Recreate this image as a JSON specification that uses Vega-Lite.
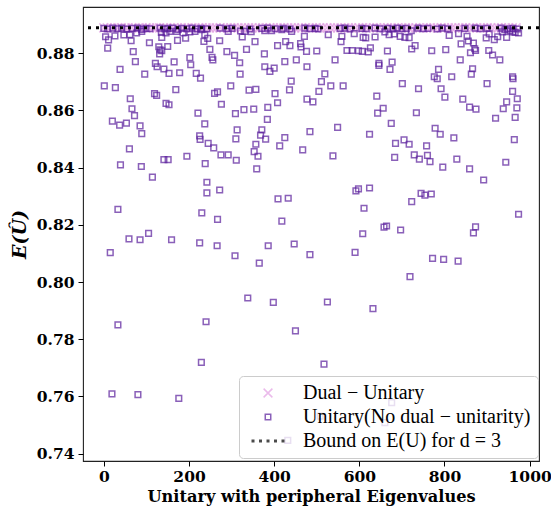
{
  "$schema": "https://vega.github.io/schema/vega-lite/v6.json",
  "width": 456,
  "height": 454,
  "autosize": {"type": "none"},
  "padding": {"left": 83, "top": 7, "right": 12, "bottom": 45},
  "background": "white",
  "config": {
    "view": {"stroke": "#222", "strokeWidth": 1.1},
    "axis": {"labelFont": "DejaVu Serif", "labelFontWeight": "bold", "labelFontSize": 15.5, "labelColor": "black", "tickColor": "black", "tickSize": 5, "tickWidth": 1, "domain": false, "grid": false, "titleFont": "DejaVu Serif", "titleFontWeight": "bold", "titleColor": "black"}
  },
  "datasets": {
    "pts": [
      {"x":0,"y":0.8889,"t":"D"},{"x":8,"y":0.8889,"t":"D"},{"x":17,"y":0.8889,"t":"D"},{"x":25,"y":0.8889,"t":"D"},{"x":33,"y":0.8889,"t":"D"},{"x":41,"y":0.8889,"t":"D"},{"x":50,"y":0.8889,"t":"D"},{"x":57,"y":0.8889,"t":"D"},{"x":66,"y":0.8889,"t":"D"},{"x":74,"y":0.8889,"t":"D"},{"x":83,"y":0.8889,"t":"D"},{"x":90,"y":0.8889,"t":"D"},{"x":99,"y":0.8889,"t":"D"},{"x":107,"y":0.8889,"t":"D"},{"x":116,"y":0.8889,"t":"D"},{"x":124,"y":0.8889,"t":"D"},{"x":131,"y":0.8889,"t":"D"},{"x":140,"y":0.8889,"t":"D"},{"x":148,"y":0.8889,"t":"D"},{"x":157,"y":0.8889,"t":"D"},{"x":165,"y":0.8889,"t":"D"},{"x":173,"y":0.8889,"t":"D"},{"x":182,"y":0.8889,"t":"D"},{"x":190,"y":0.8889,"t":"D"},{"x":198,"y":0.8889,"t":"D"},{"x":207,"y":0.8889,"t":"D"},{"x":214,"y":0.8889,"t":"D"},{"x":223,"y":0.8889,"t":"D"},{"x":231,"y":0.8889,"t":"D"},{"x":240,"y":0.8889,"t":"D"},{"x":248,"y":0.8889,"t":"D"},{"x":256,"y":0.8889,"t":"D"},{"x":264,"y":0.8889,"t":"D"},{"x":273,"y":0.8889,"t":"D"},{"x":281,"y":0.8889,"t":"D"},{"x":290,"y":0.8889,"t":"D"},{"x":298,"y":0.8889,"t":"D"},{"x":306,"y":0.8889,"t":"D"},{"x":315,"y":0.8889,"t":"D"},{"x":323,"y":0.8889,"t":"D"},{"x":331,"y":0.8889,"t":"D"},{"x":340,"y":0.8889,"t":"D"},{"x":348,"y":0.8889,"t":"D"},{"x":356,"y":0.8889,"t":"D"},{"x":365,"y":0.8889,"t":"D"},{"x":373,"y":0.8889,"t":"D"},{"x":381,"y":0.8889,"t":"D"},{"x":390,"y":0.8889,"t":"D"},{"x":398,"y":0.8889,"t":"D"},{"x":407,"y":0.8889,"t":"D"},{"x":415,"y":0.8889,"t":"D"},{"x":423,"y":0.8889,"t":"D"},{"x":432,"y":0.8889,"t":"D"},{"x":440,"y":0.8889,"t":"D"},{"x":448,"y":0.8889,"t":"D"},{"x":457,"y":0.8889,"t":"D"},{"x":465,"y":0.8889,"t":"D"},{"x":474,"y":0.8889,"t":"D"},{"x":482,"y":0.8889,"t":"D"},{"x":490,"y":0.8889,"t":"D"},{"x":499,"y":0.8889,"t":"D"},{"x":507,"y":0.8889,"t":"D"},{"x":515,"y":0.8889,"t":"D"},{"x":524,"y":0.8889,"t":"D"},{"x":532,"y":0.8889,"t":"D"},{"x":541,"y":0.8889,"t":"D"},{"x":549,"y":0.8889,"t":"D"},{"x":557,"y":0.8889,"t":"D"},{"x":566,"y":0.8889,"t":"D"},{"x":574,"y":0.8889,"t":"D"},{"x":582,"y":0.8889,"t":"D"},{"x":591,"y":0.8889,"t":"D"},{"x":599,"y":0.8889,"t":"D"},{"x":608,"y":0.8889,"t":"D"},{"x":616,"y":0.8889,"t":"D"},{"x":624,"y":0.8889,"t":"D"},{"x":633,"y":0.8889,"t":"D"},{"x":641,"y":0.8889,"t":"D"},{"x":649,"y":0.8889,"t":"D"},{"x":658,"y":0.8889,"t":"D"},{"x":666,"y":0.8889,"t":"D"},{"x":675,"y":0.8889,"t":"D"},{"x":683,"y":0.8889,"t":"D"},{"x":691,"y":0.8889,"t":"D"},{"x":700,"y":0.8889,"t":"D"},{"x":708,"y":0.8889,"t":"D"},{"x":716,"y":0.8889,"t":"D"},{"x":725,"y":0.8889,"t":"D"},{"x":733,"y":0.8889,"t":"D"},{"x":742,"y":0.8889,"t":"D"},{"x":750,"y":0.8889,"t":"D"},{"x":758,"y":0.8889,"t":"D"},{"x":767,"y":0.8889,"t":"D"},{"x":775,"y":0.8889,"t":"D"},{"x":783,"y":0.8889,"t":"D"},{"x":792,"y":0.8889,"t":"D"},{"x":800,"y":0.8889,"t":"D"},{"x":809,"y":0.8889,"t":"D"},{"x":817,"y":0.8889,"t":"D"},{"x":825,"y":0.8889,"t":"D"},{"x":834,"y":0.8889,"t":"D"},{"x":842,"y":0.8889,"t":"D"},{"x":850,"y":0.8889,"t":"D"},{"x":859,"y":0.8889,"t":"D"},{"x":867,"y":0.8889,"t":"D"},{"x":876,"y":0.8889,"t":"D"},{"x":884,"y":0.8889,"t":"D"},{"x":892,"y":0.8889,"t":"D"},{"x":901,"y":0.8889,"t":"D"},{"x":909,"y":0.8889,"t":"D"},{"x":917,"y":0.8889,"t":"D"},{"x":926,"y":0.8889,"t":"D"},{"x":934,"y":0.8889,"t":"D"},{"x":943,"y":0.8889,"t":"D"},{"x":951,"y":0.8889,"t":"D"},{"x":959,"y":0.8889,"t":"D"},{"x":968,"y":0.8889,"t":"D"},

      {"x":74,"y":0.8771,"t":"U"},{"x":121,"y":0.8765,"t":"U"},{"x":125,"y":0.8753,"t":"U"},{"x":165,"y":0.877,"t":"U"},{"x":204,"y":0.876,"t":"U"},{"x":256,"y":0.8777,"t":"U"},{"x":319,"y":0.8767,"t":"U"},{"x":38,"y":0.8744,"t":"U"},{"x":96,"y":0.8727,"t":"U"},{"x":141,"y":0.8745,"t":"U"},{"x":153,"y":0.873,"t":"U"},{"x":178,"y":0.8732,"t":"U"},{"x":217,"y":0.873,"t":"U"},{"x":227,"y":0.8713,"t":"U"},{"x":320,"y":0.8727,"t":"U"},{"x":378,"y":0.8753,"t":"U"},{"x":390,"y":0.8737,"t":"U"},{"x":400,"y":0.8748,"t":"U"},{"x":425,"y":0.8771,"t":"U"},{"x":452,"y":0.8777,"t":"U"},{"x":477,"y":0.8753,"t":"U"},{"x":1,"y":0.8686,"t":"U"},{"x":27,"y":0.868,"t":"U"},{"x":440,"y":0.8703,"t":"U"},{"x":119,"y":0.8659,"t":"U"},{"x":124,"y":0.8653,"t":"U"},{"x":169,"y":0.8673,"t":"U"},{"x":260,"y":0.866,"t":"U"},{"x":267,"y":0.8665,"t":"U"},{"x":298,"y":0.8686,"t":"U"},{"x":341,"y":0.8671,"t":"U"},{"x":357,"y":0.8674,"t":"U"},{"x":402,"y":0.8659,"t":"U"},{"x":436,"y":0.8672,"t":"U"},{"x":477,"y":0.864,"t":"U"},{"x":62,"y":0.8641,"t":"U"},{"x":146,"y":0.8625,"t":"U"},{"x":153,"y":0.862,"t":"U"},{"x":66,"y":0.8606,"t":"U"},{"x":72,"y":0.8582,"t":"U"},{"x":221,"y":0.8591,"t":"U"},{"x":276,"y":0.8622,"t":"U"},{"x":309,"y":0.8589,"t":"U"},{"x":329,"y":0.8603,"t":"U"},{"x":352,"y":0.8605,"t":"U"},{"x":385,"y":0.8611,"t":"U"},{"x":408,"y":0.8627,"t":"U"},{"x":20,"y":0.8563,"t":"U"},{"x":37,"y":0.8549,"t":"U"},{"x":53,"y":0.8556,"t":"U"},{"x":85,"y":0.8546,"t":"U"},{"x":89,"y":0.8519,"t":"U"},{"x":237,"y":0.8553,"t":"U"},{"x":384,"y":0.8569,"t":"U"},{"x":313,"y":0.8532,"t":"U"},{"x":371,"y":0.8532,"t":"U"},{"x":225,"y":0.8511,"t":"U"},{"x":226,"y":0.8499,"t":"U"},{"x":245,"y":0.8485,"t":"U"},{"x":258,"y":0.8469,"t":"U"},{"x":310,"y":0.8501,"t":"U"},{"x":368,"y":0.8514,"t":"U"},{"x":380,"y":0.85,"t":"U"},{"x":357,"y":0.8482,"t":"U"},{"x":425,"y":0.8505,"t":"U"},{"x":413,"y":0.8476,"t":"U"},{"x":467,"y":0.8462,"t":"U"},{"x":484,"y":0.8526,"t":"U"},{"x":60,"y":0.8466,"t":"U"},{"x":141,"y":0.8428,"t":"U"},{"x":151,"y":0.8428,"t":"U"},{"x":195,"y":0.844,"t":"U"},{"x":275,"y":0.8445,"t":"U"},{"x":292,"y":0.8445,"t":"U"},{"x":311,"y":0.8426,"t":"U"},{"x":353,"y":0.8456,"t":"U"},{"x":362,"y":0.844,"t":"U"},{"x":39,"y":0.841,"t":"U"},{"x":88,"y":0.8404,"t":"U"},{"x":238,"y":0.8414,"t":"U"},{"x":359,"y":0.8396,"t":"U"},{"x":114,"y":0.8367,"t":"U"},{"x":242,"y":0.8349,"t":"U"},

      {"x":543,"y":0.8777,"t":"U"},{"x":646,"y":0.8765,"t":"U"},{"x":646,"y":0.8758,"t":"U"},{"x":677,"y":0.8769,"t":"U"},{"x":672,"y":0.8744,"t":"U"},{"x":786,"y":0.8744,"t":"U"},{"x":776,"y":0.8718,"t":"U"},{"x":783,"y":0.8711,"t":"U"},{"x":817,"y":0.8718,"t":"U"},{"x":866,"y":0.8746,"t":"U"},{"x":863,"y":0.8727,"t":"U"},{"x":837,"y":0.8777,"t":"U"},{"x":930,"y":0.8777,"t":"U"},{"x":960,"y":0.8718,"t":"U"},{"x":961,"y":0.8711,"t":"U"},{"x":519,"y":0.8728,"t":"U"},{"x":511,"y":0.8701,"t":"U"},{"x":533,"y":0.8686,"t":"U"},{"x":562,"y":0.8686,"t":"U"},{"x":505,"y":0.8667,"t":"U"},{"x":491,"y":0.863,"t":"U"},{"x":701,"y":0.8694,"t":"U"},{"x":739,"y":0.8676,"t":"U"},{"x":792,"y":0.8676,"t":"U"},{"x":900,"y":0.8694,"t":"U"},{"x":960,"y":0.8667,"t":"U"},{"x":641,"y":0.865,"t":"U"},{"x":801,"y":0.8647,"t":"U"},{"x":843,"y":0.864,"t":"U"},{"x":971,"y":0.8641,"t":"U"},{"x":946,"y":0.863,"t":"U"},{"x":656,"y":0.8608,"t":"U"},{"x":643,"y":0.8591,"t":"U"},{"x":734,"y":0.8592,"t":"U"},{"x":859,"y":0.8612,"t":"U"},{"x":874,"y":0.8605,"t":"U"},{"x":938,"y":0.8606,"t":"U"},{"x":970,"y":0.8609,"t":"U"},{"x":920,"y":0.8573,"t":"U"},{"x":966,"y":0.8576,"t":"U"},{"x":675,"y":0.8555,"t":"U"},{"x":549,"y":0.8541,"t":"U"},{"x":624,"y":0.8517,"t":"U"},{"x":778,"y":0.8538,"t":"U"},{"x":790,"y":0.8517,"t":"U"},{"x":822,"y":0.8504,"t":"U"},{"x":964,"y":0.8498,"t":"U"},{"x":538,"y":0.8441,"t":"U"},{"x":685,"y":0.8485,"t":"U"},{"x":705,"y":0.8497,"t":"U"},{"x":717,"y":0.8482,"t":"U"},{"x":758,"y":0.8476,"t":"U"},{"x":683,"y":0.8436,"t":"U"},{"x":729,"y":0.8445,"t":"U"},{"x":741,"y":0.843,"t":"U"},{"x":760,"y":0.8443,"t":"U"},{"x":766,"y":0.8421,"t":"U"},{"x":796,"y":0.8402,"t":"U"},{"x":829,"y":0.843,"t":"U"},{"x":859,"y":0.8396,"t":"U"},{"x":944,"y":0.8419,"t":"U"},{"x":892,"y":0.8357,"t":"U"},

      {"x":242,"y":0.8312,"t":"U"},{"x":272,"y":0.8322,"t":"U"},{"x":409,"y":0.8291,"t":"U"},{"x":33,"y":0.8254,"t":"U"},{"x":230,"y":0.8242,"t":"U"},{"x":267,"y":0.8219,"t":"U"},{"x":418,"y":0.8213,"t":"U"},{"x":15,"y":0.8103,"t":"U"},{"x":59,"y":0.8151,"t":"U"},{"x":85,"y":0.8148,"t":"U"},{"x":105,"y":0.817,"t":"U"},{"x":159,"y":0.8148,"t":"U"},{"x":225,"y":0.8137,"t":"U"},{"x":266,"y":0.8127,"t":"U"},{"x":308,"y":0.8092,"t":"U"},{"x":365,"y":0.8066,"t":"U"},{"x":386,"y":0.8127,"t":"U"},{"x":338,"y":0.7944,"t":"U"},{"x":398,"y":0.7929,"t":"U"},{"x":33,"y":0.785,"t":"U"},{"x":240,"y":0.7861,"t":"U"},{"x":433,"y":0.8293,"t":"U"},{"x":447,"y":0.8133,"t":"U"},{"x":484,"y":0.8096,"t":"U"},{"x":592,"y":0.8319,"t":"U"},{"x":598,"y":0.8326,"t":"U"},{"x":624,"y":0.8329,"t":"U"},{"x":611,"y":0.8258,"t":"U"},{"x":608,"y":0.8169,"t":"U"},{"x":590,"y":0.8104,"t":"U"},{"x":658,"y":0.8192,"t":"U"},{"x":664,"y":0.8196,"t":"U"},{"x":697,"y":0.8182,"t":"U"},{"x":723,"y":0.8281,"t":"U"},{"x":745,"y":0.831,"t":"U"},{"x":754,"y":0.8304,"t":"U"},{"x":769,"y":0.8308,"t":"U"},{"x":974,"y":0.8237,"t":"U"},{"x":873,"y":0.8193,"t":"U"},{"x":868,"y":0.8172,"t":"U"},{"x":772,"y":0.8083,"t":"U"},{"x":798,"y":0.8079,"t":"U"},{"x":832,"y":0.8073,"t":"U"},{"x":719,"y":0.8019,"t":"U"},{"x":525,"y":0.793,"t":"U"},{"x":632,"y":0.7907,"t":"U"},{"x":450,"y":0.7829,"t":"U"},{"x":19,"y":0.7609,"t":"U"},{"x":80,"y":0.7606,"t":"U"},{"x":176,"y":0.7593,"t":"U"},{"x":229,"y":0.7719,"t":"U"},{"x":517,"y":0.7713,"t":"U"},{"x":676,"y":0.7578,"t":"U"},{"x":660,"y":0.7508,"t":"U"},{"x":508,"y":0.7531,"t":"U"},{"x":432,"y":0.7446,"t":"U"},

      {"x":4,"y":0.8858,"t":"U"},{"x":11,"y":0.8847,"t":"U"},{"x":9,"y":0.8818,"t":"U"},{"x":26,"y":0.8861,"t":"U"},{"x":47,"y":0.8864,"t":"U"},{"x":61,"y":0.8865,"t":"U"},{"x":64,"y":0.8844,"t":"U"},{"x":69,"y":0.8806,"t":"U"},{"x":77,"y":0.8871,"t":"U"},{"x":89,"y":0.8877,"t":"U"},{"x":107,"y":0.8837,"t":"U"},{"x":135,"y":0.8873,"t":"U"},{"x":146,"y":0.8871,"t":"U"},{"x":136,"y":0.8856,"t":"U"},{"x":129,"y":0.8823,"t":"U"},{"x":132,"y":0.8812,"t":"U"},{"x":136,"y":0.8809,"t":"U"},{"x":131,"y":0.8798,"t":"U"},{"x":150,"y":0.8824,"t":"U"},{"x":155,"y":0.8877,"t":"U"},{"x":171,"y":0.8877,"t":"U"},{"x":173,"y":0.8845,"t":"U"},{"x":186,"y":0.8871,"t":"U"},{"x":192,"y":0.8853,"t":"U"},{"x":202,"y":0.8875,"t":"U"},{"x":202,"y":0.8785,"t":"U"},{"x":214,"y":0.8877,"t":"U"},{"x":230,"y":0.8883,"t":"U"},{"x":235,"y":0.8842,"t":"U"},{"x":237,"y":0.8865,"t":"U"},{"x":244,"y":0.8852,"t":"U"},{"x":249,"y":0.8814,"t":"U"},{"x":254,"y":0.8786,"t":"U"},{"x":272,"y":0.8844,"t":"U"},{"x":289,"y":0.8806,"t":"U"},{"x":292,"y":0.8877,"t":"U"},{"x":307,"y":0.8793,"t":"U"},{"x":321,"y":0.8878,"t":"U"},{"x":325,"y":0.8857,"t":"U"},{"x":331,"y":0.8877,"t":"U"},{"x":335,"y":0.8814,"t":"U"},{"x":346,"y":0.8876,"t":"U"},{"x":355,"y":0.8841,"t":"U"},{"x":377,"y":0.8798,"t":"U"},{"x":378,"y":0.8879,"t":"U"},{"x":394,"y":0.8879,"t":"U"},{"x":408,"y":0.8827,"t":"U"},{"x":418,"y":0.8883,"t":"U"},{"x":427,"y":0.8841,"t":"U"},{"x":437,"y":0.8827,"t":"U"},{"x":441,"y":0.8877,"t":"U"},{"x":462,"y":0.8834,"t":"U"},{"x":463,"y":0.8822,"t":"U"},{"x":471,"y":0.8859,"t":"U"},{"x":476,"y":0.8807,"t":"U"},{"x":500,"y":0.8808,"t":"U"},{"x":527,"y":0.8865,"t":"U"},{"x":559,"y":0.8859,"t":"U"},{"x":557,"y":0.8841,"t":"U"},{"x":571,"y":0.881,"t":"U"},{"x":583,"y":0.881,"t":"U"},{"x":588,"y":0.8869,"t":"U"},{"x":598,"y":0.8809,"t":"U"},{"x":609,"y":0.8856,"t":"U"},{"x":615,"y":0.8854,"t":"U"},{"x":607,"y":0.8807,"t":"U"},{"x":621,"y":0.8805,"t":"U"},{"x":626,"y":0.8819,"t":"U"},{"x":637,"y":0.8857,"t":"U"},{"x":660,"y":0.8875,"t":"U"},{"x":670,"y":0.8865,"t":"U"},{"x":666,"y":0.8808,"t":"U"},{"x":682,"y":0.8868,"t":"U"},{"x":696,"y":0.8859,"t":"U"},{"x":707,"y":0.8856,"t":"U"},{"x":717,"y":0.8855,"t":"U"},{"x":722,"y":0.8879,"t":"U"},{"x":723,"y":0.8815,"t":"U"},{"x":731,"y":0.8827,"t":"U"},{"x":770,"y":0.8809,"t":"U"},{"x":803,"y":0.8813,"t":"U"},{"x":811,"y":0.8863,"t":"U"},{"x":833,"y":0.8869,"t":"U"},{"x":839,"y":0.8833,"t":"U"},{"x":853,"y":0.8859,"t":"U"},{"x":856,"y":0.8843,"t":"U"},{"x":868,"y":0.8836,"t":"U"},{"x":861,"y":0.8802,"t":"U"},{"x":871,"y":0.8816,"t":"U"},{"x":873,"y":0.881,"t":"U"},{"x":898,"y":0.8854,"t":"U"},{"x":905,"y":0.8868,"t":"U"},{"x":904,"y":0.881,"t":"U"},{"x":913,"y":0.8794,"t":"U"},{"x":917,"y":0.8848,"t":"U"},{"x":925,"y":0.8858,"t":"U"},{"x":936,"y":0.8875,"t":"U"},{"x":942,"y":0.8883,"t":"U"},{"x":946,"y":0.8856,"t":"U"},{"x":954,"y":0.8879,"t":"U"},{"x":960,"y":0.8875,"t":"U"},{"x":966,"y":0.8873,"t":"U"},{"x":974,"y":0.8871,"t":"U"},

      {"x":0,"y":0.8887,"t":"U"},{"x":9,"y":0.8885,"t":"U"},{"x":21,"y":0.8888,"t":"U"},{"x":33,"y":0.8886,"t":"U"},{"x":42,"y":0.8888,"t":"U"},{"x":54,"y":0.8885,"t":"U"},{"x":66,"y":0.8887,"t":"U"},{"x":80,"y":0.8888,"t":"U"},{"x":89,"y":0.8884,"t":"U"},{"x":99,"y":0.8887,"t":"U"},{"x":108,"y":0.8886,"t":"U"},{"x":132,"y":0.8888,"t":"U"},{"x":143,"y":0.8885,"t":"U"},{"x":150,"y":0.8887,"t":"U"},{"x":162,"y":0.8888,"t":"U"},{"x":174,"y":0.8884,"t":"U"},{"x":183,"y":0.8887,"t":"U"},{"x":195,"y":0.8886,"t":"U"},{"x":207,"y":0.8888,"t":"U"},{"x":219,"y":0.8885,"t":"U"},{"x":228,"y":0.8887,"t":"U"},{"x":242,"y":0.8886,"t":"U"},{"x":273,"y":0.8888,"t":"U"},{"x":289,"y":0.8886,"t":"U"},{"x":301,"y":0.8887,"t":"U"},{"x":343,"y":0.8885,"t":"U"},{"x":371,"y":0.8887,"t":"U"},{"x":385,"y":0.8888,"t":"U"},{"x":402,"y":0.8886,"t":"U"},{"x":421,"y":0.8887,"t":"U"},{"x":437,"y":0.8885,"t":"U"},{"x":472,"y":0.8888,"t":"U"},{"x":484,"y":0.8886,"t":"U"},{"x":496,"y":0.8887,"t":"U"},{"x":503,"y":0.8885,"t":"U"},{"x":555,"y":0.8887,"t":"U"},{"x":566,"y":0.8888,"t":"U"},{"x":578,"y":0.8885,"t":"U"},{"x":606,"y":0.8887,"t":"U"},{"x":616,"y":0.8886,"t":"U"},{"x":637,"y":0.8888,"t":"U"},{"x":649,"y":0.8886,"t":"U"},{"x":667,"y":0.8887,"t":"U"},{"x":679,"y":0.8885,"t":"U"},{"x":689,"y":0.8888,"t":"U"},{"x":700,"y":0.8886,"t":"U"},{"x":710,"y":0.8887,"t":"U"},{"x":738,"y":0.8888,"t":"U"},{"x":750,"y":0.8886,"t":"U"},{"x":761,"y":0.8887,"t":"U"},{"x":783,"y":0.8885,"t":"U"},{"x":794,"y":0.8888,"t":"U"},{"x":808,"y":0.8886,"t":"U"},{"x":848,"y":0.8887,"t":"U"},{"x":872,"y":0.8888,"t":"U"},{"x":884,"y":0.8886,"t":"U"},{"x":900,"y":0.8887,"t":"U"},{"x":933,"y":0.8888,"t":"U"},{"x":949,"y":0.8886,"t":"U"},{"x":961,"y":0.8887,"t":"U"},{"x":971,"y":0.8885,"t":"U"}
    ],
    "bound": [{"y": 0.8889, "t": "B"}]
  },
  "layer": [
    {
      "data": {"name": "pts"},
      "mark": {"type": "point", "filled": false, "size": 32, "strokeWidth": 1.5},
      "encoding": {
        "x": {"field": "x", "type": "quantitative", "scale": {"domain": [-49, 1022], "nice": false, "zero": false},
              "axis": {"values": [0, 200, 400, 600, 800, 1000], "format": "d", "title": "Unitary with peripheral Eigenvalues", "titleFontSize": 16.2, "labelPadding": 3, "titlePadding": 4}},
        "y": {"field": "y", "type": "quantitative", "scale": {"domain": [0.7374, 0.8962], "nice": false, "zero": false},
              "axis": {"values": [0.74, 0.76, 0.78, 0.8, 0.82, 0.84, 0.86, 0.88], "format": ".2f", "title": "E(Û)", "titleFontStyle": "italic", "titleFontSize": 19, "labelPadding": 4, "titlePadding": 7}},
        "color": {"field": "t", "type": "nominal",
          "scale": {"domain": ["D", "U", "B"], "range": ["#e39fe3", "#5a1e9c", "#000000"]},
          "legend": {"orient": "none", "legendX": 156, "legendY": 369, "title": null,
            "labelExpr": "datum.label == 'D' ? 'Dual − Unitary' : datum.label == 'U' ? 'Unitary(No dual − unitarity)' : 'Bound on E(U) for d = 3'",
            "labelFont": "Liberation Serif", "labelFontSize": 20, "labelColor": "black", "labelOffset": 25, "labelLimit": 500,
            "fillColor": "rgba(255,255,255,0.8)", "strokeColor": "#cccccc", "cornerRadius": 4, "padding": 7,
            "symbolOffset": 12, "rowPadding": 4, "symbolSize": 30, "symbolStrokeWidth": 1.5, "symbolDash": [],
            "encode": {"symbols": {"update": {"fill": {"value": "transparent"}}}}}
        },
        "shape": {"field": "t", "type": "nominal",
          "scale": {"domain": ["D", "U", "B"], "range": ["M-1.6,-1.6L1.6,1.6M-1.6,1.6L1.6,-1.6", "square", "M-5.75,-0.27h0.55v0.55h-0.55zM-3.02,-0.27h0.55v0.55h-0.55zM-0.27,-0.27h0.55v0.55h-0.55zM2.47,-0.27h0.55v0.55h-0.55zM5.2,-0.27h0.55v0.55h-0.55z"]},
          "legend": {"orient": "none", "legendX": 156, "legendY": 369, "title": null,
            "labelExpr": "datum.label == 'D' ? 'Dual − Unitary' : datum.label == 'U' ? 'Unitary(No dual − unitarity)' : 'Bound on E(U) for d = 3'",
            "labelFont": "Liberation Serif", "labelFontSize": 20, "labelColor": "black", "labelOffset": 25, "labelLimit": 500,
            "fillColor": "rgba(255,255,255,0.8)", "strokeColor": "#cccccc", "cornerRadius": 4, "padding": 7,
            "symbolOffset": 12, "rowPadding": 4, "symbolSize": 30, "symbolStrokeWidth": 1.5, "symbolDash": [],
            "encode": {"symbols": {"update": {"fill": {"value": "transparent"}}}}}
        }
      }
    },
    {
      "data": {"name": "bound"},
      "mark": {"type": "rule", "strokeDash": [3, 5], "strokeWidth": 3},
      "encoding": {
        "y": {"field": "y", "type": "quantitative"},
        "color": {"field": "t", "type": "nominal"}
      }
    }
  ]
}
